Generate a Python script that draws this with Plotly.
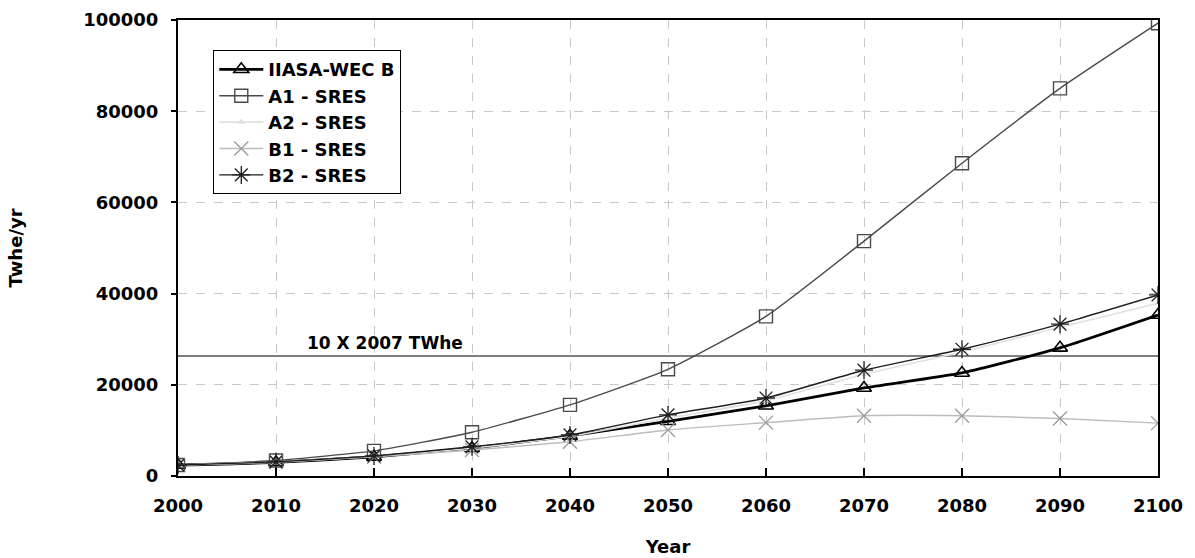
import plotly.graph_objects as go

years = [2000, 2010, 2020, 2030, 2040, 2050, 2060, 2070, 2080, 2090, 2100]

iiasa_wec_b = [2400, 3000, 4200, 6100, 8800, 12000, 15400, 19300, 22600, 28100, 35300]
a1_sres = [2400, 3400, 5500, 9600, 15600, 23400, 35000, 51500, 68600, 85000, 99300]
a2_sres = [2400, 3000, 4300, 6100, 8700, 12700, 16500, 22300, 27200, 32600, 37900]
b1_sres = [2400, 3100, 4200, 5700, 7500, 10100, 11700, 13200, 13200, 12600, 11600]
b2_sres = [2400, 3100, 4400, 6400, 9000, 13400, 17100, 23200, 27800, 33300, 39700]

reference_level = 26300
reference_label = "10 X 2007 TWhe"

FONT = "DejaVu Sans, Verdana, sans-serif"

fig = go.Figure()

# reference horizontal line (10x 2007 world electricity)
fig.add_trace(go.Scatter(
    x=[years[0], years[-1]], y=[reference_level, reference_level],
    mode="lines", line=dict(color="#555555", width=1.5),
    showlegend=False, hoverinfo="skip",
))

series = [
    ("IIASA-WEC B", iiasa_wec_b, dict(color="#000000", width=2.8),
     dict(symbol="triangle-up-open", size=13, color="#000000", line=dict(width=1.6))),
    ("A1 - SRES", a1_sres, dict(color="#4a4a4a", width=1.4),
     dict(symbol="square-open", size=13, color="#4a4a4a", line=dict(width=1.4))),
    ("A2 - SRES", a2_sres, dict(color="#e0e0e0", width=1.6),
     dict(symbol="triangle-up", size=7, color="#e0e0e0")),
    ("B1 - SRES", b1_sres, dict(color="#bdbdbd", width=1.4),
     dict(symbol="x-thin-open", size=14, color="#9a9a9a", line=dict(width=1.3))),
    ("B2 - SRES", b2_sres, dict(color="#1e1e1e", width=1.4),
     dict(symbol="asterisk-open", size=15, color="#1e1e1e", line=dict(width=1.3))),
]

for name, vals, ln, mk in series:
    fig.add_trace(go.Scatter(
        x=years, y=vals, name=name, mode="lines+markers",
        line=dict(shape="spline", smoothing=0.5, **ln), marker=mk,
    ))

fig.add_annotation(
    x=2013.0, y=reference_level, xref="x", yref="y", text=reference_label,
    showarrow=False, xanchor="left", yanchor="bottom", yshift=1,
    font=dict(family=FONT, size=17, color="#000000", weight="bold"),
)

axis_common = dict(
    showline=True, linecolor="#000000", linewidth=2, mirror=True,
    showgrid=True, gridcolor="#c8c8c8", griddash="dash", gridwidth=1,
    zeroline=False, automargin=False,
    tickfont=dict(family=FONT, size=18, color="#000000", weight="bold"),
    tickcolor="#000000", tickwidth=1.5,
)

fig.update_xaxes(
    range=[2000, 2100], tickvals=years, ticks="inside", ticklen=8,
    ticklabelstandoff=12,
    title=dict(text="Year", font=dict(family=FONT, size=18, color="#000000", weight="bold"),
               standoff=26),
    **axis_common,
)
fig.update_yaxes(
    range=[0, 100000], dtick=20000, ticks="outside", ticklen=5,
    tickformat="d", ticklabelstandoff=9,
    title=dict(text="Twhe/yr", font=dict(family=FONT, size=18, color="#000000", weight="bold"),
               standoff=56),
    **axis_common,
)

fig.update_layout(
    width=1195, height=558,
    margin=dict(l=178, r=37, t=20, b=82),
    paper_bgcolor="#ffffff", plot_bgcolor="#ffffff",
    legend=dict(
        x=0.036, y=0.934, xanchor="left", yanchor="top",
        bgcolor="#ffffff", bordercolor="#000000", borderwidth=1,
        font=dict(family=FONT, size=18, color="#000000", weight="bold"),
        itemwidth=44,
    ),
    font=dict(family=FONT),
)

fig.write_html("out.html")
